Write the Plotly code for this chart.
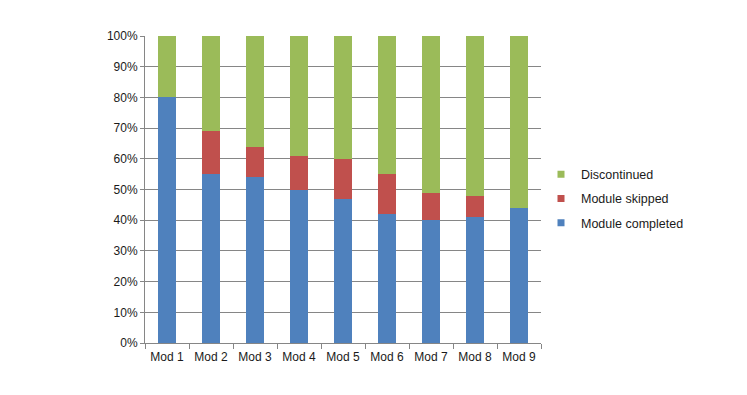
import plotly.graph_objects as go

categories = ["Mod 1", "Mod 2", "Mod 3", "Mod 4", "Mod 5", "Mod 6", "Mod 7", "Mod 8", "Mod 9"]
completed = [80, 55, 54, 50, 47, 42, 40, 41, 44]
skipped = [0, 14, 10, 11, 13, 13, 9, 7, 0]
discontinued = [20, 31, 36, 39, 40, 45, 51, 52, 56]
y_ticks = [0, 10, 20, 30, 40, 50, 60, 70, 80, 90, 100]
y_tick_labels = [f"{v}%" for v in y_ticks]

series = [
    ("Module completed", completed, "#4F81BD", 3),
    ("Module skipped", skipped, "#C0504D", 2),
    ("Discontinued", discontinued, "#9BBB59", 1),
]

fig = go.Figure()
for name, vals, color, rank in series:
    fig.add_trace(go.Bar(x=categories, y=vals, name=name, showlegend=False,
                         marker=dict(color=color, line=dict(width=0))))
for name, vals, color, rank in series:
    fig.add_trace(go.Scatter(x=[None], y=[None], mode="markers", name=name,
                             marker=dict(symbol="square", size=7, color=color),
                             legendrank=rank, legendgroup=name))

fig.update_layout(
    barmode="stack",
    bargap=0.59,
    width=747, height=395,
    margin=dict(l=137, r=214, t=28, b=60),
    paper_bgcolor="white", plot_bgcolor="white",
    font=dict(family="Liberation Sans, Arial, sans-serif", size=12, color="#1a1a1a"),
    legend=dict(x=1.0, xanchor="left", y=0.47, yanchor="middle",
                traceorder="grouped", tracegroupgap=5,
                font=dict(size=12.5), itemwidth=30),
    xaxis=dict(showline=True, linecolor="#868686", linewidth=1,
               ticks="outside", tickson="boundaries", ticklen=5, tickcolor="#868686",
               showgrid=False, ticklabelstandoff=3),
    yaxis=dict(range=[0, 100], tickvals=y_ticks, ticktext=y_tick_labels,
               showline=True, linecolor="#868686", linewidth=1,
               ticks="outside", ticklen=4, tickcolor="#868686",
               showgrid=True, gridcolor="#868686", gridwidth=1, zeroline=False),
)

fig.write_html("out.html")
